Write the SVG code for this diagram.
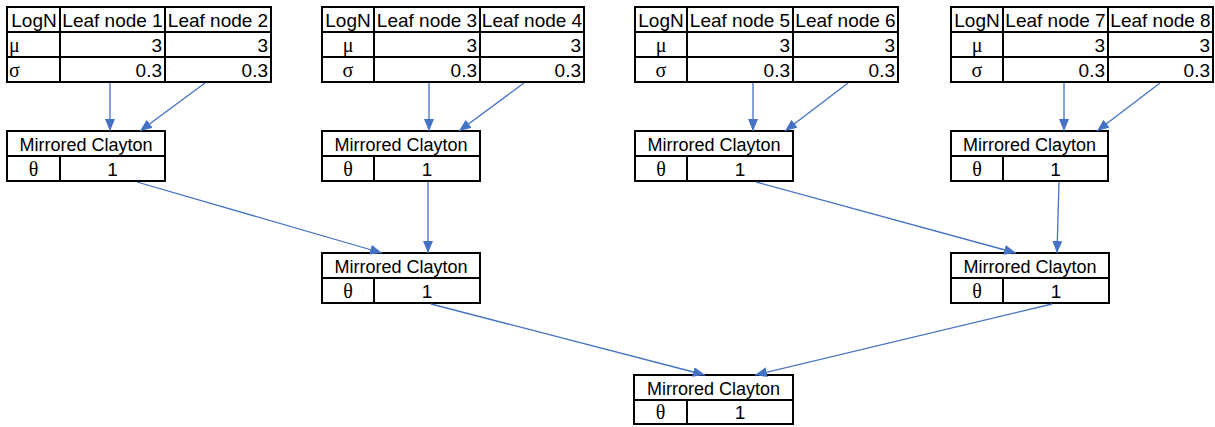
<svg xmlns="http://www.w3.org/2000/svg" width="1215" height="427" viewBox="0 0 1215 427">
<style>
.b{fill:#fff;stroke:#000;stroke-width:2}
.g{stroke:#000;stroke-width:2}
.t{font-family:"Liberation Sans",Arial,sans-serif;font-size:18px;fill:#000}
.h{font-size:19px}
.s{font-family:"Liberation Serif","Times New Roman",serif;font-size:20px;fill:#000}
.m{text-anchor:middle}
.r{text-anchor:end}
.c{stroke:#4472C4;stroke-width:1.3;fill:none;marker-end:url(#ah)}
</style>
<defs>
<marker id="ah" markerUnits="userSpaceOnUse" markerWidth="12" markerHeight="10" viewBox="0 0 12 10" refX="12" refY="5" orient="auto">
<path d="M0,0 L12,5 L0,10 z" fill="#4472C4"/>
</marker>
</defs>
<rect width="1215" height="427" fill="#fff"/>

<g id="leaf12">
<rect class="b" x="7" y="7" width="264" height="75"/>
<line class="g" x1="7" y1="32" x2="271" y2="32"/><line class="g" x1="7" y1="57" x2="271" y2="57"/>
<line class="g" x1="60" y1="7" x2="60" y2="82"/><line class="g" x1="165" y1="7" x2="165" y2="82"/>
<text class="t h m" x="34" y="27">LogN</text><text class="t h m" x="112.5" y="27">Leaf node 1</text><text class="t h m" x="218" y="27">Leaf node 2</text>
<text class="s" x="9" y="52">μ</text><text class="t h r" x="162" y="52">3</text><text class="t h r" x="268" y="52">3</text>
<text class="s" x="9" y="77">σ</text><text class="t h r" x="162" y="77">0.3</text><text class="t h r" x="268" y="77">0.3</text>
</g>
<g id="leaf34">
<rect class="b" x="322" y="7" width="262" height="75"/>
<line class="g" x1="322" y1="32" x2="584" y2="32"/><line class="g" x1="322" y1="57" x2="584" y2="57"/>
<line class="g" x1="374" y1="7" x2="374" y2="82"/><line class="g" x1="480" y1="7" x2="480" y2="82"/>
<text class="t h m" x="348" y="27">LogN</text><text class="t h m" x="427" y="27">Leaf node 3</text><text class="t h m" x="532" y="27">Leaf node 4</text>
<text class="s m" x="348" y="52">μ</text><text class="t h r" x="477" y="52">3</text><text class="t h r" x="581" y="52">3</text>
<text class="s m" x="348" y="77">σ</text><text class="t h r" x="477" y="77">0.3</text><text class="t h r" x="581" y="77">0.3</text>
</g>
<g id="leaf56">
<rect class="b" x="635" y="7" width="263" height="75"/>
<line class="g" x1="635" y1="32" x2="898" y2="32"/><line class="g" x1="635" y1="57" x2="898" y2="57"/>
<line class="g" x1="687" y1="7" x2="687" y2="82"/><line class="g" x1="793" y1="7" x2="793" y2="82"/>
<text class="t h m" x="661" y="27">LogN</text><text class="t h m" x="740" y="27">Leaf node 5</text><text class="t h m" x="845.5" y="27">Leaf node 6</text>
<text class="s m" x="661" y="52">μ</text><text class="t h r" x="790" y="52">3</text><text class="t h r" x="895" y="52">3</text>
<text class="s m" x="661" y="77">σ</text><text class="t h r" x="790" y="77">0.3</text><text class="t h r" x="895" y="77">0.3</text>
</g>
<g id="leaf78">
<rect class="b" x="951" y="7" width="262" height="75"/>
<line class="g" x1="951" y1="32" x2="1213" y2="32"/><line class="g" x1="951" y1="57" x2="1213" y2="57"/>
<line class="g" x1="1003" y1="7" x2="1003" y2="82"/><line class="g" x1="1108" y1="7" x2="1108" y2="82"/>
<text class="t h m" x="977" y="27">LogN</text><text class="t h m" x="1055.5" y="27">Leaf node 7</text><text class="t h m" x="1160.5" y="27">Leaf node 8</text>
<text class="s m" x="977" y="52">μ</text><text class="t h r" x="1105" y="52">3</text><text class="t h r" x="1210" y="52">3</text>
<text class="s m" x="977" y="77">σ</text><text class="t h r" x="1105" y="77">0.3</text><text class="t h r" x="1210" y="77">0.3</text>
</g>

<g id="mc1">
<rect class="b" x="7" y="131" width="158" height="50"/>
<line class="g" x1="7" y1="156" x2="165" y2="156"/><line class="g" x1="60" y1="156" x2="60" y2="181"/>
<text class="t m" x="86" y="151">Mirrored Clayton</text>
<text class="s m" x="33.5" y="176">θ</text><text class="t h m" x="112.5" y="176">1</text>
</g>
<g id="mc2">
<rect class="b" x="322" y="131" width="158" height="50"/>
<line class="g" x1="322" y1="156" x2="480" y2="156"/><line class="g" x1="374" y1="156" x2="374" y2="181"/>
<text class="t m" x="401" y="151">Mirrored Clayton</text>
<text class="s m" x="348" y="176">θ</text><text class="t h m" x="427" y="176">1</text>
</g>
<g id="mc3">
<rect class="b" x="635" y="131" width="158" height="50"/>
<line class="g" x1="635" y1="156" x2="793" y2="156"/><line class="g" x1="687" y1="156" x2="687" y2="181"/>
<text class="t m" x="714" y="151">Mirrored Clayton</text>
<text class="s m" x="661" y="176">θ</text><text class="t h m" x="740" y="176">1</text>
</g>
<g id="mc4">
<rect class="b" x="951" y="131" width="157" height="50"/>
<line class="g" x1="951" y1="156" x2="1108" y2="156"/><line class="g" x1="1003" y1="156" x2="1003" y2="181"/>
<text class="t m" x="1029.5" y="151">Mirrored Clayton</text>
<text class="s m" x="977" y="176">θ</text><text class="t h m" x="1055.5" y="176">1</text>
</g>
<g id="mc5">
<rect class="b" x="322" y="253" width="158" height="50"/>
<line class="g" x1="322" y1="278" x2="480" y2="278"/><line class="g" x1="374" y1="278" x2="374" y2="303"/>
<text class="t m" x="401" y="273">Mirrored Clayton</text>
<text class="s m" x="348" y="298">θ</text><text class="t h m" x="427" y="298">1</text>
</g>
<g id="mc6">
<rect class="b" x="951" y="253" width="158" height="50"/>
<line class="g" x1="951" y1="278" x2="1109" y2="278"/><line class="g" x1="1003" y1="278" x2="1003" y2="303"/>
<text class="t m" x="1030" y="273">Mirrored Clayton</text>
<text class="s m" x="977" y="298">θ</text><text class="t h m" x="1056" y="298">1</text>
</g>
<g id="mc7">
<rect class="b" x="634" y="375" width="159" height="49"/>
<line class="g" x1="634" y1="400" x2="793" y2="400"/><line class="g" x1="687" y1="400" x2="687" y2="424"/>
<text class="t m" x="713.5" y="395">Mirrored Clayton</text>
<text class="s m" x="660.5" y="419">θ</text><text class="t h m" x="740" y="419">1</text>
</g>

<g id="connectors">
<line class="c" x1="110" y1="83" x2="110" y2="131"/>
<line class="c" x1="205" y1="83" x2="140" y2="131"/>
<line class="c" x1="429" y1="83" x2="429" y2="131"/>
<line class="c" x1="524" y1="83" x2="459" y2="131"/>
<line class="c" x1="753" y1="83" x2="753" y2="131"/>
<line class="c" x1="848" y1="83" x2="785" y2="131"/>
<line class="c" x1="1064" y1="83" x2="1064" y2="131"/>
<line class="c" x1="1160" y1="83" x2="1097" y2="131"/>
<line class="c" x1="137" y1="182" x2="382" y2="253"/>
<line class="c" x1="428" y1="182" x2="428" y2="253"/>
<line class="c" x1="756" y1="182" x2="1016" y2="253"/>
<line class="c" x1="1059" y1="182" x2="1057" y2="253"/>
<line class="c" x1="431" y1="304" x2="705" y2="375"/>
<line class="c" x1="1052" y1="304" x2="755" y2="375"/>
</g>
</svg>
